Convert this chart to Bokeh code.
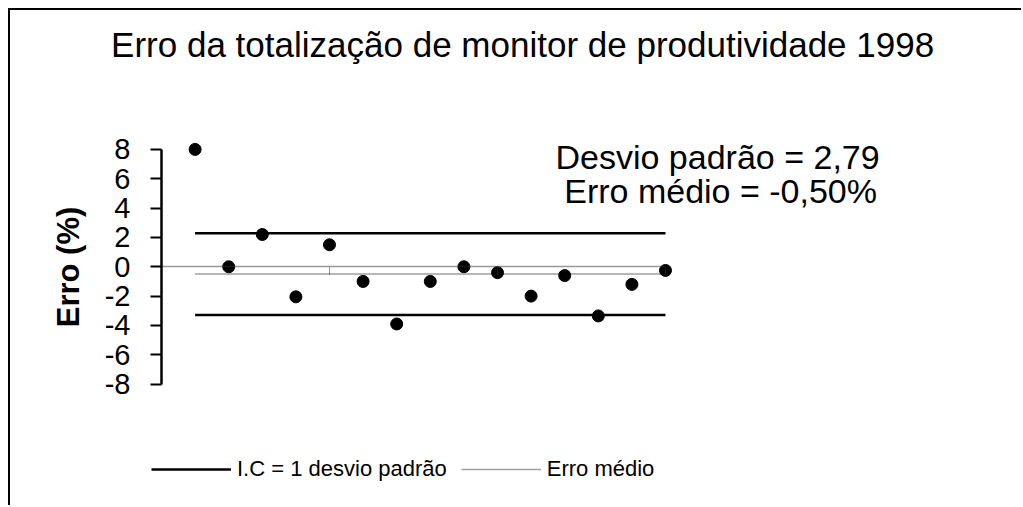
from bokeh.plotting import figure
from bokeh.models import (Range1d, FixedTicker, Label, Legend, LegendItem, ColumnDataSource)
from bokeh.embed import file_html
from bokeh.resources import INLINE

# ---- data ----
amostra = list(range(1, 16))
erro = [8.0, 0.0, 2.2, -2.05, 1.5, -1.0, -3.9, -1.0, 0.0, -0.4, -2.0, -0.6, -3.35, -1.2, -0.25]
erro_medio = -0.50
desvio_padrao = 2.79
y_ticks = [-8, -6, -4, -2, 0, 2, 4, 6, 8]
x_ticks = [0, 5, 10, 15]
titulo = "Erro da totalização de monitor de produtividade  1998"

ic_sup = [erro_medio + desvio_padrao] * len(amostra)
ic_inf = [erro_medio - desvio_padrao] * len(amostra)
media = [erro_medio] * len(amostra)

FONT = "Liberation Sans"

W, H = 1013, 497
p = figure(width=W, height=H, output_backend="svg", toolbar_location=None,
           x_range=Range1d(-4.494, 25.655), y_range=Range1d(-16.41, 17.47),
           min_border_left=0, min_border_right=0, min_border_bottom=0, min_border_top=0,
           background_fill_color="white", border_fill_color="white",
           outline_line_color=None)
p.styles = {"border-top": "2px solid black", "border-left": "2px solid black",
            "margin-left": "8px", "margin-top": "8px"}
p.grid.visible = False
p.title.visible = False

# title (drawn inside the canvas so the plotting frame spans the whole figure)
p.add_layout(Label(x=10.893, y=15.15, text=titulo, text_font=FONT,
                   text_font_size="35px", text_color="black",
                   text_align="center", text_baseline="middle"))

# y axis
ya = p.yaxis[0]
ya.fixed_location = 0
ya.bounds = (-8, 8)
ya.ticker = FixedTicker(ticks=y_ticks)
ya.major_label_overrides = {t: str(t) for t in y_ticks}
ya.minor_tick_line_color = None
ya.major_tick_in = 0
ya.major_tick_out = 11
ya.major_tick_line_width = 2
ya.axis_line_width = 2.5
ya.major_label_text_font = FONT
ya.major_label_text_font_size = "29px"
ya.major_label_text_color = "black"
ya.major_label_standoff = 20
ya.axis_label = "Erro (%)"
ya.axis_label_text_font = FONT
ya.axis_label_text_font_style = "bold"
ya.axis_label_text_font_size = "31px"
ya.axis_label_text_color = "black"
ya.axis_label_standoff = 16

# x axis (dotted, at zero)
xa = p.xaxis[0]
xa.fixed_location = 0
xa.bounds = (0, 15)
xa.ticker = FixedTicker(ticks=x_ticks)
xa.minor_tick_line_color = None
xa.major_tick_in = 0
xa.major_tick_out = 8
xa.major_tick_line_dash = "1 1"
xa.major_tick_line_color = "#333333"
xa.axis_line_dash = "1 1"
xa.axis_line_color = "#333333"
xa.axis_line_width = 1.5
xa.major_label_text_color = None

src = ColumnDataSource(dict(x=amostra, erro=erro, sup=ic_sup, inf=ic_inf, med=media))

r_sup = p.line("x", "sup", source=src, line_color="black", line_width=2.5)
r_inf = p.line("x", "inf", source=src, line_color="black", line_width=2.5)
r_med = p.line("x", "med", source=src, line_color="#a0a0a0", line_width=1.5)
p.scatter("x", "erro", source=src, size=12, marker="circle", color="black")

p.add_layout(Label(x=16.55, y=7.45, text="Desvio padrão = 2,79", text_font=FONT,
                   text_font_size="34px", text_color="black",
                   text_align="center", text_baseline="middle"))
p.add_layout(Label(x=16.64, y=5.15, text="Erro médio = -0,50%", text_font=FONT,
                   text_font_size="34px", text_color="black",
                   text_align="center", text_baseline="middle"))

legend = Legend(items=[LegendItem(label="I.C = 1 desvio padrão", renderers=[r_sup]),
                       LegendItem(label="Erro médio", renderers=[r_med])],
                orientation="horizontal", location=(141, 25),
                glyph_width=80, glyph_height=20, label_standoff=6, spacing=14,
                padding=0, margin=0, border_line_color=None, background_fill_alpha=0,
                label_text_font=FONT, label_text_font_size="22px", label_text_color="black")
p.add_layout(legend, "center")

open("out.html", "w").write(file_html(p, INLINE))
